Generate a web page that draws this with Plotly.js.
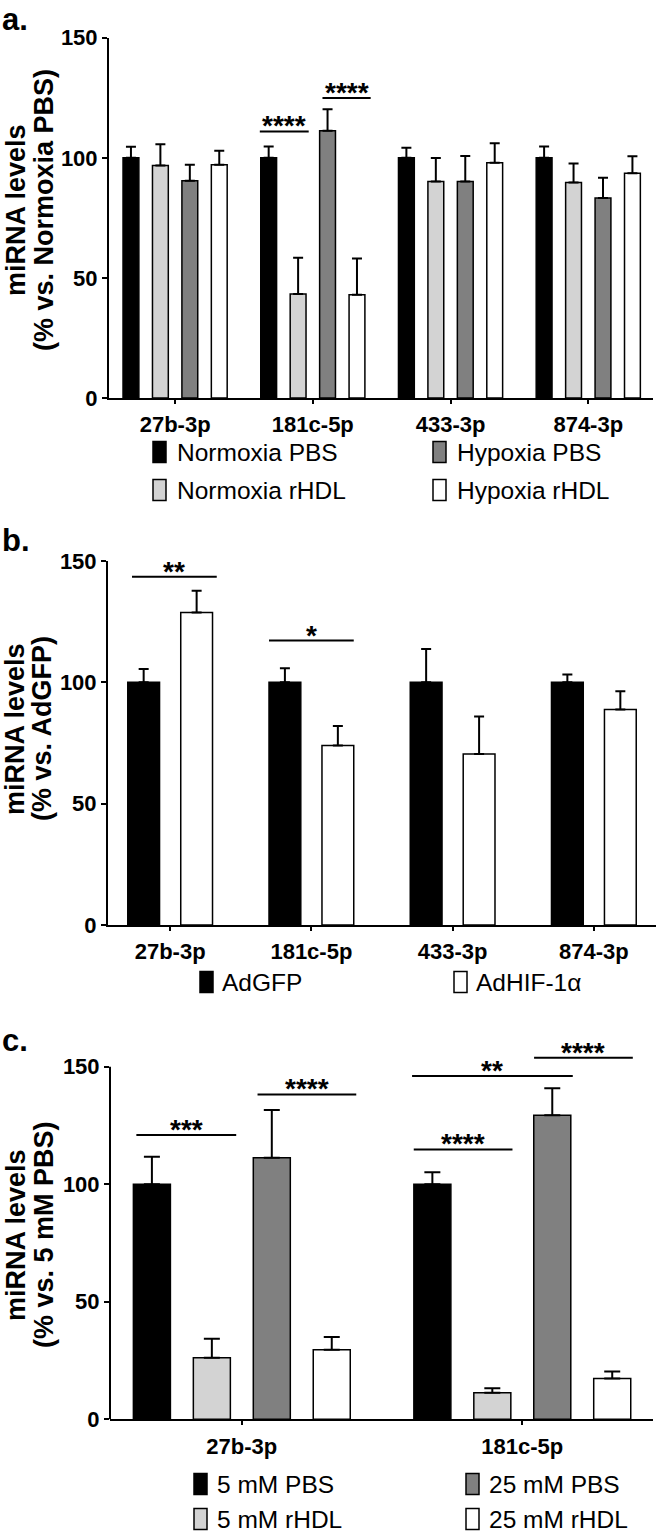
<!DOCTYPE html>
<html><head><meta charset="utf-8">
<script src="https://cdn.plot.ly/plotly-3.0.1.min.js"></script>
<style>html,body{margin:0;padding:0;background:#fff}</style>
</head><body><div id="chart" style="width:658px;height:1533px"></div>
<script>
// ---------- DATA ----------
// Panel a
const catsA = ['27b-3p', '181c-5p', '433-3p', '874-3p'];
const namesA = ['Normoxia PBS', 'Normoxia rHDL', 'Hypoxia PBS', 'Hypoxia rHDL'];
const normPBS_A = [100, 100, 100, 100];
const normPBS_A_err = [4.6, 4.7, 4.2, 4.7];
const normHDL_A = [96.8, 43.3, 90.1, 89.7];
const normHDL_A_err = [8.8, 15.1, 9.8, 7.9];
const hypPBS_A = [90.4, 111.3, 90.1, 83.3];
const hypPBS_A_err = [6.7, 8.9, 10.7, 8.4];
const hypHDL_A = [97.1, 43.0, 97.9, 93.6];
const hypHDL_A_err = [5.8, 15.1, 8.2, 7.0];
const sigA_cat = [1, 1];
const sigA_y = [111, 124.9];
const sigA_text = ['****', '****'];

// Panel b
const catsB = ['27b-3p', '181c-5p', '433-3p', '874-3p'];
const namesB = ['AdGFP', 'AdHIF-1α'];
const adGFP_B = [100, 100, 100, 100];
const adGFP_B_err = [5.5, 5.8, 13.7, 3.2];
const adHIF_B = [128.8, 74.0, 70.5, 88.8];
const adHIF_B_err = [8.9, 8.0, 15.4, 7.5];
const sigB_cat = [0, 1];
const sigB_y = [143.5, 117.2];
const sigB_text = ['**', '*'];

// Panel c
const catsC = ['27b-3p', '181c-5p'];
const namesC = ['5 mM PBS', '5 mM rHDL', '25 mM PBS', '25 mM rHDL'];
const pbs5_C = [100, 100];
const pbs5_C_err = [11.7, 5.1];
const hdl5_C = [26.2, 11.3];
const hdl5_C_err = [8.1, 1.9];
const pbs25_C = [111.3, 129.3];
const pbs25_C_err = [20.3, 11.5];
const hdl25_C = [29.6, 17.4];
const hdl25_C_err = [5.4, 2.9];
const sigC_cat = [0, 0, 1, 1, 1];
const sigC_y = [120.9, 138.2, 146.0, 114.8, 153.8];
const sigC_text = ['***', '****', '**', '****', '****'];

const yTicks = [0, 50, 100, 150];

// ---------- STYLE / LAYOUT ----------
const W = 658, H = 1533;
const FONT = 'Liberation Sans, Arial, Helvetica, sans-serif';
const fills4 = ['#000000', '#d3d3d3', '#808080', '#ffffff'];
const fills2 = ['#000000', '#ffffff'];
const px = v => v / W;
const py = v => 1 - v / H;

// sig bracket extents (offsets from category center, in category units)
const sigA_ext = [[-0.385, -0.03], [0.07, 0.42]];
const sigB_ext = [[-0.27, 0.33], [-0.30, 0.30]];
const sigC_ext = [[-0.376, -0.02], [0.056, 0.408], [-0.393, 0.18], [-0.387, -0.035], [0.042, 0.394]];

function bars(cats, names, vals, errs, fills, xa, ya, opts) {
  return names.map((n, i) => {
    const t = {
      type: 'bar', x: cats, y: vals[i], name: n, xaxis: xa, yaxis: ya, showlegend: false,
      marker: {color: fills[i], line: {color: '#000', width: 1.5}},
      error_y: {type: 'data', symmetric: false, array: errs[i], arrayminus: errs[i].map(() => 0),
        color: '#000', thickness: 2, width: opts.cap},
      width: opts.width
    };
    if (opts.offsets) t.offset = opts.offsets[i];
    return t;
  });
}

const traces = [].concat(
  bars(catsA, namesA, [normPBS_A, normHDL_A, hypPBS_A, hypHDL_A],
       [normPBS_A_err, normHDL_A_err, hypPBS_A_err, hypHDL_A_err], fills4, 'x', 'y', {cap: 5, width: 0.115}),
  bars(catsB, namesB, [adGFP_B, adHIF_B], [adGFP_B_err, adHIF_B_err], fills2, 'x2', 'y2',
       {cap: 5, width: 0.225, offsets: [-0.30, 0.075]}),
  bars(catsC, namesC, [pbs5_C, hdl5_C, pbs25_C, hdl25_C],
       [pbs5_C_err, hdl5_C_err, pbs25_C_err, hdl25_C_err], fills4, 'x3', 'y3', {cap: 8, width: 0.132})
);

const tickFont = {family: FONT, size: 22, color: '#000', weight: 'bold'};
function xax(domain, range, anchor) {
  return {domain, range, anchor, type: 'category', showline: true, linecolor: '#000', linewidth: 2,
    ticks: 'outside', ticklen: 4, tickwidth: 2, tickcolor: '#000', tickfont: tickFont,
    showgrid: false, zeroline: false, fixedrange: true, ticklabelstandoff: 2};
}
function yax(domain, range, anchor, showline) {
  return {domain, range, anchor, showline, linecolor: '#000', linewidth: 2,
    ticks: 'outside', ticklen: 5, tickwidth: 2, tickcolor: '#000', tickfont: tickFont,
    tickvals: yTicks, ticktext: yTicks.map(String), showgrid: false, zeroline: false, fixedrange: true,
    ticklabelstandoff: 0};
}

const shapes = [];
const annotations = [];

function addSig(cats, ys, texts, ext, xa, ya) {
  ys.forEach((y, i) => {
    const c = cats[i];
    shapes.push({type: 'line', xref: xa, yref: ya, x0: c + ext[i][0], x1: c + ext[i][1], y0: y, y1: y,
      line: {color: '#000', width: 2}});
    annotations.push({xref: xa, yref: ya, x: c + (ext[i][0] + ext[i][1]) / 2, y: y, text: texts[i],
      showarrow: false, yanchor: 'bottom', yshift: -12,
      font: {family: FONT, size: 28, color: '#000', weight: 'bold'}});
  });
}
addSig(sigA_cat, sigA_y, sigA_text, sigA_ext, 'x', 'y');
addSig(sigB_cat, sigB_y, sigB_text, sigB_ext, 'x2', 'y2');
addSig(sigC_cat, sigC_y, sigC_text, sigC_ext, 'x3', 'y3');

// panel c y axis line only to 150
shapes.push({type: 'line', xref: 'x3 domain', yref: 'y3', x0: 0, x1: 0, y0: 0, y1: 150, line: {color: '#000', width: 2}});

// panel letters
[['a.', 0], ['b.', 521], ['c.', 1021]].forEach(([t, y]) => annotations.push({
  xref: 'paper', yref: 'paper', x: px(0), y: py(y), xanchor: 'left', yanchor: 'top', text: t,
  showarrow: false, font: {family: FONT, size: 31, color: '#000', weight: 'bold'}}));

// y titles
function ytitle(l1, l2, xc1, xc2, yc) {
  [[l1, xc1], [l2, xc2]].forEach(([t, x]) => annotations.push({
    xref: 'paper', yref: 'paper', x: px(x), y: py(yc), xanchor: 'center', yanchor: 'middle', textangle: -90,
    text: t, showarrow: false, font: {family: FONT, size: 27, color: '#000', weight: 'bold'}}));
}
ytitle('miRNA levels', '(% vs. Normoxia PBS)', 16, 44, 210);
ytitle('miRNA levels', '(% vs. AdGFP)', 15, 42, 729);
ytitle('miRNA levels', '(% vs. 5 mM PBS)', 16, 44, 1235);

// custom legends
function legend(names, fills, pos, sqW, sqH, gap) {
  names.forEach((n, i) => {
    const [x, y] = pos[i];
    shapes.push({type: 'rect', xref: 'paper', yref: 'paper', x0: px(x), x1: px(x + sqW),
      y0: py(y + sqH / 2), y1: py(y - sqH / 2), fillcolor: fills[i], line: {color: '#000', width: 1.5}});
    annotations.push({xref: 'paper', yref: 'paper', x: px(x + gap), y: py(y), xanchor: 'left', yanchor: 'middle',
      text: n, showarrow: false, font: {family: FONT, size: 24.5, color: '#000'}});
  });
}
legend(namesA, fills4, [[153, 452], [153, 490], [433, 452], [433, 490]], 13, 21, 22);
legend(namesB, fills2, [[200, 982], [454, 982]], 13, 21, 20);
legend(namesC, fills4, [[194, 1484], [194, 1519], [466, 1484], [466, 1519]], 13, 21, 21);

const layout = {
  width: W, height: H, margin: {l: 0, r: 0, t: 0, b: 0}, paper_bgcolor: '#fff', plot_bgcolor: '#fff',
  barmode: 'group', bargap: 0.145, bargroupgap: 0, showlegend: false,
  font: {family: FONT, color: '#000'},
  xaxis: xax([px(109), px(653)], [-0.48, 3.47], 'y'),
  yaxis: yax([py(398), py(37.7)], [0, 150], 'x', true),
  xaxis2: xax([px(108), px(656)], [-0.44, 3.44], 'y2'),
  yaxis2: yax([py(925), py(561)], [0, 150], 'x2', true),
  xaxis3: xax([px(110), px(653)], [-0.47, 1.466], 'y3'),
  yaxis3: yax([py(1419.3), py(1043.2)], [0, 160], 'x3', false),
  shapes, annotations
};

Plotly.newPlot('chart', traces, layout, {staticPlot: true, displayModeBar: false});
</script></body></html>
